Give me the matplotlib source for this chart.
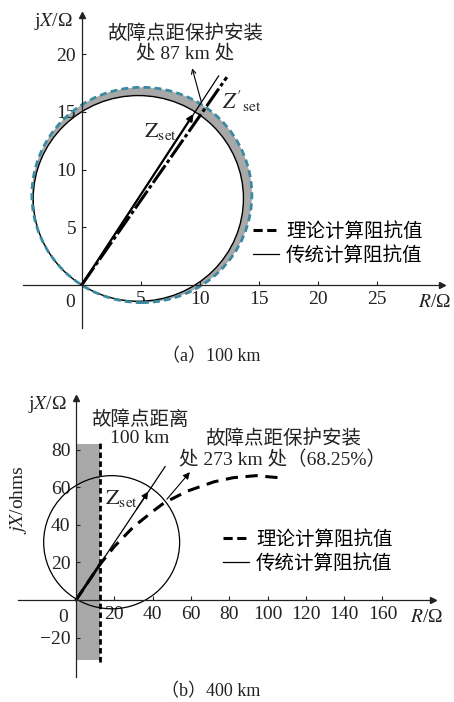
import matplotlib
matplotlib.use('Agg')
import matplotlib.pyplot as plt
from matplotlib.patches import Circle, Rectangle
from matplotlib.lines import Line2D

plt.rcParams['font.family'] = ['Liberation Serif', 'Noto Sans CJK SC']
plt.rcParams['mathtext.fontset'] = 'stix'
FS = 14
INK = '#222222'

# ---- (a) 100 km ----
a_xticks = [5, 10, 15, 20, 25]
a_yticks = [5, 10, 15, 20]
a_zset = (9.6, 15.0)          # traditional setting impedance (circle diameter)
a_zset2 = (10.2, 15.6)        # theoretical setting impedance (circle diameter)
a_line_end = (11.6, 18.1)
a_dash_end = (12.3, 18.0)
a_note_tip = (9.3, 19.0)

# ---- (b) 400 km ----
b_xticks = [20, 40, 60, 80, 100, 120, 140, 160]
b_yticks = [-20, 20, 40, 60, 80]
b_circle_c = (18.6, 30.8)
b_circle_r = 35.5
b_zset = (38.5, 59.0)
b_line_end = (46.5, 71.1)
b_theory_r = [0, 12.5, 20, 30, 40, 46, 58, 72, 82, 94, 108]
b_theory_x = [0, 19.0, 28.5, 39.0, 47.2, 51.8, 58.0, 63.0, 65.2, 66.3, 65.0]
b_fault_r = 12.5             # fault at 100 km
b_band = (-32, 83)
b_note_from = (46.5, 52.6)
b_note_tip = (60.4, 69.3)

fig = plt.figure(figsize=(4.54, 7.02), dpi=100)


def px_axes(l, t, r, b):
    W, H = 454, 702
    return fig.add_axes([l / W, 1 - b / H, (r - l) / W, (b - t) / H])


def style_axes(ax, xticks, yticks):
    for s in ['top', 'right']:
        ax.spines[s].set_visible(False)
    for s in ['left', 'bottom']:
        ax.spines[s].set_position(('data', 0))
        ax.spines[s].set_color(INK)
        ax.spines[s].set_linewidth(0.9)
    ax.set_xticks(xticks)
    ax.set_yticks(yticks)
    ax.tick_params(direction='in', length=3, width=0.8, colors=INK,
                   labelsize=FS, pad=4)
    ax.plot(1, 0, '>', color=INK, ms=5, transform=ax.get_yaxis_transform(), clip_on=False)
    ax.plot(0, 1, '^', color=INK, ms=5, transform=ax.get_xaxis_transform(), clip_on=False)


def legend(ax, x, y):
    h = [Line2D([], [], color='k', lw=2.2, ls=(0, (3, 1.5))),
         Line2D([], [], color='k', lw=0.9)]
    ax.legend(h, ['理论计算阻抗值', '传统计算阻抗值'], loc='upper left',
              bbox_to_anchor=(x / 454, 1 - y / 702), bbox_transform=fig.transFigure,
              frameon=False, fontsize=FS, handlelength=1.35, handletextpad=0.35,
              borderpad=0, borderaxespad=0, labelspacing=0.25)


# ---------------- top panel ----------------
ax = px_axes(23, 15, 441.7, 328)
ax.set_xlim(-4.97, 30.5)
ax.set_ylim(-3.72, 23.38)
style_axes(ax, a_xticks, a_yticks)

c2 = (a_zset2[0] / 2, a_zset2[1] / 2)
r2 = (a_zset2[0] ** 2 + a_zset2[1] ** 2) ** 0.5 / 2
c1 = (a_zset[0] / 2, a_zset[1] / 2)
r1 = (a_zset[0] ** 2 + a_zset[1] ** 2) ** 0.5 / 2
ax.add_patch(Circle(c2, r2, facecolor='#a8a8a8', edgecolor='none', zorder=1))
ax.add_patch(Circle(c1, r1, facecolor='white', edgecolor='none', zorder=1.1))
ax.add_patch(Circle(c1, r1, facecolor='none', edgecolor='k', lw=1.0, zorder=2))
ax.add_patch(Circle(c2, r2, facecolor='none', edgecolor='#3a8aa2', lw=2.0,
                    ls=(0, (2.5, 1.5)), zorder=2))

ax.plot([0, a_line_end[0]], [0, a_line_end[1]], color='k', lw=0.9)
ax.plot([0, a_dash_end[0]], [0, a_dash_end[1]], color='k', lw=2.2,
        ls=(0, (7, 1, 1.2, 1)))
ax.annotate('', xy=a_zset, xytext=(0, 0),
            arrowprops=dict(arrowstyle='-|>', color='k', lw=1.6, mutation_scale=9))
ax.annotate('', xy=a_note_tip, xytext=a_zset2,
            arrowprops=dict(arrowstyle='->', color='k', lw=0.8, mutation_scale=8))

ax.text(8.75, 20.9, '故障点距保护安装\n处 87 km 处', ha='center', va='center',
        fontsize=FS, linespacing=1.1, color=INK)
ax.text(6.7, 13.3, r'$\mathrm{Z}_{\mathrm{set}}$', ha='center', va='center',
        fontsize=FS + 2, color=INK)
ax.text(13.6, 15.9, r"$Z'_{\mathrm{set}}$", ha='center', va='center',
        fontsize=FS + 2, color=INK)
ax.text(-0.74, 22.8, r'j$X$/Ω', ha='right', va='center', fontsize=FS, color=INK)
ax.text(28.5, -1.47, r'$R$/Ω', ha='left', va='center', fontsize=FS, color=INK)
ax.text(-1.0, -1.47, '0', ha='center', va='center', fontsize=FS, color=INK)
legend(ax, 253, 222)

fig.text(211 / 454, 1 - 356.7 / 702, '（a）100 km', ha='center', va='center',
         fontsize=FS - 1, color=INK)

# ---------------- bottom panel ----------------
ax = px_axes(18, 398, 433, 676.7)
ax.set_xlim(-30.3, 186.4)
ax.set_ylim(-40.9, 107.7)
style_axes(ax, b_xticks, b_yticks)

ax.add_patch(Rectangle((0, b_band[0]), b_fault_r, b_band[1] - b_band[0],
                       facecolor='#a8a8a8', edgecolor='none', zorder=1))
ax.plot([b_fault_r, b_fault_r], [b_band[0] - 1, b_band[1] + 1.5], color='k',
        lw=2.0, ls=(0, (2, 1.2)))
ax.add_patch(Circle(b_circle_c, b_circle_r, facecolor='none', edgecolor='k',
                    lw=0.9, zorder=2))
ax.plot([0, b_line_end[0]], [0, b_line_end[1]], color='k', lw=0.9)
ax.plot([0, b_theory_r[1]], [0, b_theory_x[1]], color='k', lw=2.0)
ax.plot(b_theory_r, b_theory_x, color='k', lw=2.2, ls=(0, (4, 2.5)))
ax.annotate('', xy=b_zset, xytext=(b_zset[0] * 0.8, b_zset[1] * 0.8),
            arrowprops=dict(arrowstyle='-|>', color='k', lw=0.9, mutation_scale=10))
ax.annotate('', xy=b_note_tip, xytext=b_note_from,
            arrowprops=dict(arrowstyle='-|>', color='k', lw=0.8, mutation_scale=10))

ax.text(33.4, 91.3, '故障点距离\n100 km', ha='center', va='center',
        fontsize=FS, linespacing=1.1, color=INK)
ax.text(108, 80.5, '故障点距保护安装\n处 273 km 处（68.25%）', ha='center',
        va='center', fontsize=FS, linespacing=1.15, color=INK)
ax.text(23.8, 54.2, r'$\mathrm{Z}_{\mathrm{set}}$', ha='center', va='center',
        fontsize=FS + 2, color=INK)
ax.text(-4.7, 104.5, r'j$X$/Ω', ha='right', va='center', fontsize=FS, color=INK)
ax.text(174.4, -9.1, r'$R$/Ω', ha='left', va='center', fontsize=FS, color=INK)
ax.text(-6.8, -9.1, '0', ha='center', va='center', fontsize=FS, color=INK)
ax.text(-30.3, 53.3, r'$jX$/ohms', ha='center', va='center', rotation=90,
        fontsize=FS, color=INK)
legend(ax, 223, 530)

fig.text(211 / 454, 1 - 691.7 / 702, '（b）400 km', ha='center', va='center',
         fontsize=FS - 1, color=INK)

fig.savefig('out.png', dpi=100)
